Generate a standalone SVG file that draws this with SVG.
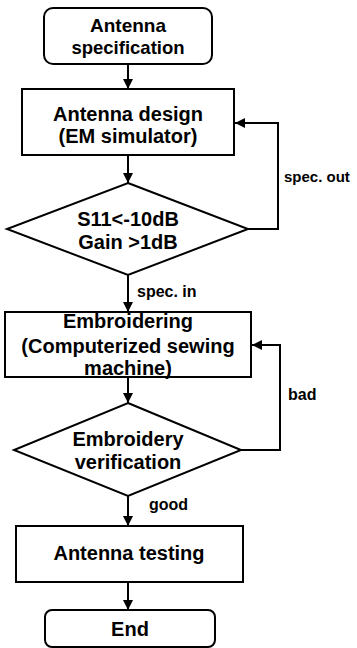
<svg xmlns="http://www.w3.org/2000/svg" width="357" height="648" viewBox="0 0 357 648">
<defs>
<marker id="arr" markerUnits="userSpaceOnUse" markerWidth="10" markerHeight="10" refX="10" refY="5" orient="auto">
<path d="M0,0 L10,5 L0,10 z" fill="#000"/>
</marker>
<style>
.n{fill:#fff;stroke:#000;stroke-width:2}
.t{font-family:"Liberation Sans",Arial,sans-serif;font-weight:bold;font-size:20px;text-anchor:middle;fill:#000}
.l{font-family:"Liberation Sans",Arial,sans-serif;font-weight:bold;font-size:15px;fill:#000}
.c{fill:none;stroke:#000;stroke-width:2;marker-end:url(#arr)}
</style>
</defs>
<rect width="357" height="648" fill="#fff"/>
<g id="connectors">
<path class="c" d="M128,64 V89"/>
<path class="c" d="M128,155 V183"/>
<path class="c" d="M248,229 H278 V123 H235"/>
<path class="c" d="M128,275 V312"/>
<path class="c" d="M128,377 V403"/>
<path class="c" d="M241,450 H280 V345 H252"/>
<path class="c" d="M128,496 V526"/>
<path class="c" d="M128,582 V610"/>
<text class="l" x="284" y="182">spec. out</text>
<text class="l" x="137" y="297" style="font-size:16px">spec. in</text>
<text class="l" x="288" y="400" style="font-size:16px">bad</text>
<text class="l" x="149" y="510" style="font-size:16px">good</text>
</g>
<g id="spec">
<rect class="n" x="44" y="8" width="168" height="56" rx="9"/>
<text class="t" x="128" y="32" style="font-size:19px">Antenna</text>
<text class="t" x="128" y="54" style="font-size:18.5px">specification</text>
</g>
<g id="design">
<rect class="n" x="22" y="89" width="212" height="66"/>
<text class="t" x="128" y="121">Antenna design</text>
<text class="t" x="128" y="143">(EM simulator)</text>
</g>
<g id="check">
<polygon class="n" points="128,183 248,229 128,275 7,229"/>
<text class="t" x="128" y="226">S11&lt;-10dB</text>
<text class="t" x="128" y="249">Gain &gt;1dB</text>
</g>
<g id="embroidering">
<rect class="n" x="5" y="312" width="246" height="65"/>
<text class="t" x="128" y="328">Embroidering</text>
<text class="t" x="128" y="353">(Computerized sewing</text>
<text class="t" x="128" y="375">machine)</text>
</g>
<g id="verify">
<polygon class="n" points="128,403 241,450 128,496 14,450"/>
<text class="t" x="128" y="446">Embroidery</text>
<text class="t" x="128" y="469">verification</text>
</g>
<g id="testing">
<rect class="n" x="16" y="526" width="227" height="56"/>
<text class="t" x="129" y="560">Antenna testing</text>
</g>
<g id="end">
<rect class="n" x="45" y="610" width="170" height="37" rx="7"/>
<text class="t" x="130" y="636">End</text>
</g>
</svg>
